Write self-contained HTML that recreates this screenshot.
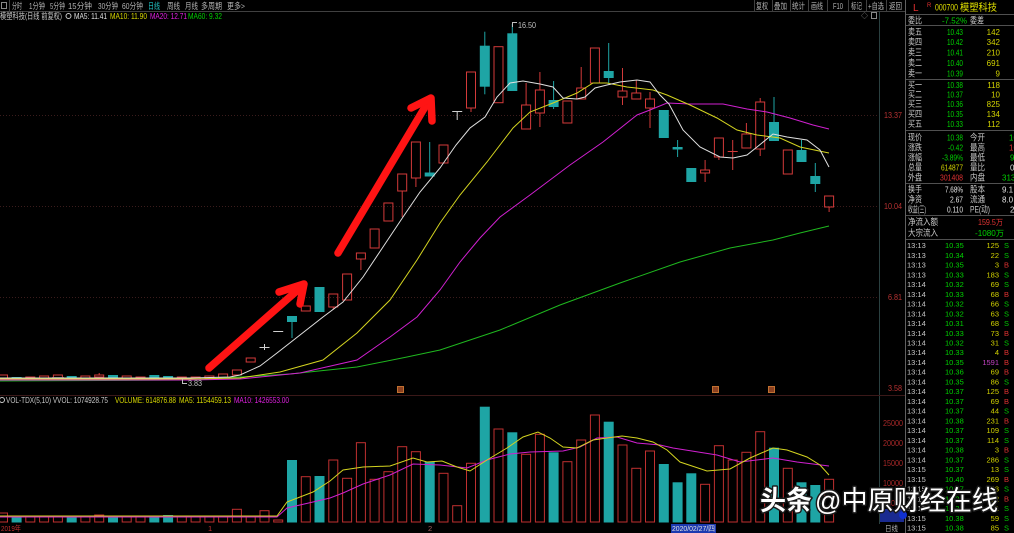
<!DOCTYPE html>
<html><head><meta charset="utf-8">
<style>
html,body{margin:0;padding:0;background:#000;overflow:hidden;width:1014px;height:533px}
svg{display:block}
text{font-family:"Liberation Sans","Noto Sans CJK SC",sans-serif}
</style></head>
<body>
<svg width="1014" height="533" viewBox="0 0 1014 533" xmlns="http://www.w3.org/2000/svg">
<rect width="1014" height="533" fill="#000"/>

<!-- toolbar -->
<g stroke="#404040" stroke-width="1">
<line x1="0" y1="11.5" x2="905" y2="11.5"/>
<line x1="9.5" y1="0" x2="9.5" y2="11"/>
<line x1="754.5" y1="0" x2="754.5" y2="11"/><line x1="772.5" y1="0" x2="772.5" y2="11"/>
<line x1="790.5" y1="0" x2="790.5" y2="11"/><line x1="808.5" y1="0" x2="808.5" y2="11"/>
<line x1="827.5" y1="0" x2="827.5" y2="11"/><line x1="848.5" y1="0" x2="848.5" y2="11"/>
<line x1="866.5" y1="0" x2="866.5" y2="11"/><line x1="886.5" y1="0" x2="886.5" y2="11"/>
</g>
<rect x="1.5" y="2.5" width="5" height="6" fill="none" stroke="#888"/>
<g font-size="8.5" fill="#b4b4b4">
<text x="12" y="9" textLength="10" lengthAdjust="spacingAndGlyphs">分时</text>
<text x="29" y="9" textLength="16" lengthAdjust="spacingAndGlyphs">1分钟</text>
<text x="50" y="9" textLength="15" lengthAdjust="spacingAndGlyphs">5分钟</text>
<text x="68" y="9" textLength="24" lengthAdjust="spacingAndGlyphs">15分钟</text>
<text x="98" y="9" textLength="20" lengthAdjust="spacingAndGlyphs">30分钟</text>
<text x="122" y="9" textLength="21" lengthAdjust="spacingAndGlyphs">60分钟</text>
<text x="148" y="9" textLength="12" lengthAdjust="spacingAndGlyphs" fill="#20c8c8">日线</text>
<text x="167" y="9" textLength="13" lengthAdjust="spacingAndGlyphs">周线</text>
<text x="185" y="9" textLength="13" lengthAdjust="spacingAndGlyphs">月线</text>
<text x="201" y="9" textLength="21" lengthAdjust="spacingAndGlyphs">多周期</text>
<text x="227" y="9" textLength="18" lengthAdjust="spacingAndGlyphs">更多&gt;</text>
<text x="756" y="9" textLength="12" lengthAdjust="spacingAndGlyphs">复权</text>
<text x="774" y="9" textLength="13" lengthAdjust="spacingAndGlyphs">叠加</text>
<text x="792" y="9" textLength="13" lengthAdjust="spacingAndGlyphs">统计</text>
<text x="811" y="9" textLength="12" lengthAdjust="spacingAndGlyphs">画线</text>
<text x="833" y="9" textLength="10" lengthAdjust="spacingAndGlyphs">F10</text>
<text x="851" y="9" textLength="11" lengthAdjust="spacingAndGlyphs">标记</text>
<text x="868" y="9" textLength="16" lengthAdjust="spacingAndGlyphs">+自选</text>
<text x="889" y="9" textLength="13" lengthAdjust="spacingAndGlyphs">返回</text>
</g>

<!-- main legend -->
<g font-size="8.5">
<text x="0" y="19" fill="#c8c8c8" textLength="62" lengthAdjust="spacingAndGlyphs">模塑科技(日线 前复权)</text>
<circle cx="68.5" cy="16" r="2.5" fill="none" stroke="#c8c8c8"/>
<text x="74" y="19" fill="#e0e0e0" textLength="33" lengthAdjust="spacingAndGlyphs">MA5: 11.41</text>
<text x="110" y="19" fill="#d8d800" textLength="37" lengthAdjust="spacingAndGlyphs">MA10: 11.90</text>
<text x="150" y="19" fill="#e020e0" textLength="37" lengthAdjust="spacingAndGlyphs">MA20: 12.71</text>
<text x="188" y="19" fill="#00d000" textLength="34" lengthAdjust="spacingAndGlyphs">MA60: 9.32</text>
</g>
<text x="861" y="18" font-size="7" fill="#888">◇</text>
<rect x="871.5" y="12.5" width="5" height="6" fill="none" stroke="#888"/>

<!-- grid -->
<g stroke="#3a1c1c" stroke-dasharray="1,2">
<line x1="0" y1="115.5" x2="879" y2="115.5"/>
<line x1="0" y1="206.5" x2="879" y2="206.5"/>
<line x1="0" y1="297.5" x2="879" y2="297.5"/>
</g>
<line x1="879.5" y1="12" x2="879.5" y2="524" stroke="#2a4040"/>
<line x1="0" y1="395.5" x2="905" y2="395.5" stroke="#3a1818"/>

<!-- axis labels main -->
<g font-size="8" fill="#b83232">
<text x="884" y="118" textLength="18" lengthAdjust="spacingAndGlyphs">13.37</text>
<text x="884" y="209" textLength="18" lengthAdjust="spacingAndGlyphs">10.04</text>
<text x="888" y="300" textLength="14" lengthAdjust="spacingAndGlyphs">6.81</text>
<text x="888" y="391" textLength="14" lengthAdjust="spacingAndGlyphs">3.58</text>
</g>

<!-- flat candles -->
<g fill="none" stroke="#d33a3a">
<rect x="-1.5" y="375" width="9" height="4"/>
<rect x="25.8" y="377" width="9" height="2"/>
<rect x="39.6" y="376" width="9" height="2"/>
<rect x="53.4" y="375" width="9" height="5"/>
<rect x="80.9" y="376" width="9" height="2"/>
<rect x="94.7" y="375" width="9" height="2"/>
<line x1="99.2" y1="373" x2="99.2" y2="375"/>
<rect x="122.2" y="376" width="9" height="2"/>
<rect x="136" y="377" width="9" height="2"/>
<rect x="177.3" y="377" width="9" height="2"/>
<rect x="191.1" y="377" width="9" height="2"/>
<rect x="204.9" y="376" width="9" height="2"/>
<rect x="218.6" y="374" width="9" height="4"/>
</g>
<g fill="#1ea5a5">
<rect x="11.6" y="377" width="10" height="2"/>
<rect x="66.7" y="376" width="10" height="2.5"/>
<rect x="108" y="375" width="10" height="3"/>
<rect x="149.3" y="375" width="10" height="2.5"/>
<rect x="163.1" y="376" width="10" height="2.5"/>
</g>
<rect x="52" y="377" width="12" height="3" fill="#707070" opacity="0.7"/>

<!-- main candles red hollow -->
<g fill="none" stroke="#d33a3a">
<rect x="232.4" y="370" width="9" height="5"/>
<rect x="246.2" y="358" width="9" height="4"/>
<rect x="301.3" y="306" width="9" height="5"/>
<rect x="328.8" y="294" width="9" height="13"/><line x1="333.3" y1="307" x2="333.3" y2="309"/>
<rect x="342.6" y="274" width="9" height="26"/>
<rect x="356.4" y="253" width="9" height="6"/><line x1="360.9" y1="259" x2="360.9" y2="270"/>
<rect x="370.1" y="229" width="9" height="19"/>
<rect x="383.9" y="203" width="9" height="18"/>
<rect x="397.7" y="174" width="9" height="17"/><line x1="402.2" y1="191" x2="402.2" y2="217"/>
<rect x="411.4" y="142" width="9" height="36"/><line x1="415.9" y1="178" x2="415.9" y2="187"/>
<rect x="439" y="145" width="9" height="18"/>
<rect x="466.5" y="72" width="9" height="36"/><line x1="471" y1="108" x2="471" y2="112"/>
<rect x="494" y="46.7" width="9" height="56"/>
<rect x="521.6" y="105" width="9" height="24"/><line x1="526.1" y1="83" x2="526.1" y2="105"/>
<rect x="535.4" y="90" width="9" height="23"/><line x1="539.9" y1="72" x2="539.9" y2="90"/><line x1="539.9" y1="113" x2="539.9" y2="127"/>
<rect x="562.9" y="101" width="9" height="22"/>
<rect x="576.7" y="88" width="9" height="11"/><line x1="581.2" y1="67" x2="581.2" y2="88"/>
<rect x="590.4" y="48" width="9" height="35"/>
<rect x="618" y="91" width="9" height="6"/><line x1="622.5" y1="68" x2="622.5" y2="91"/><line x1="622.5" y1="97" x2="622.5" y2="105"/>
<rect x="631.8" y="93" width="9" height="6"/><line x1="636.3" y1="80" x2="636.3" y2="93"/>
<rect x="645.5" y="99" width="9" height="9"/><line x1="650" y1="92" x2="650" y2="99"/><line x1="650" y1="108" x2="650" y2="128"/>
<rect x="700.6" y="170" width="9" height="3"/><line x1="705.1" y1="160" x2="705.1" y2="170"/><line x1="705.1" y1="173" x2="705.1" y2="182"/>
<rect x="714.4" y="138" width="9" height="19"/><line x1="718.9" y1="157" x2="718.9" y2="160"/>
<line x1="727.7" y1="151.5" x2="737.7" y2="151.5"/><line x1="732.7" y1="140" x2="732.7" y2="170"/>
<rect x="741.9" y="134" width="9" height="14"/><line x1="746.4" y1="123" x2="746.4" y2="134"/>
<rect x="755.7" y="102" width="9" height="47"/><line x1="760.2" y1="98" x2="760.2" y2="102"/><line x1="760.2" y1="149" x2="760.2" y2="156"/>
<rect x="783.3" y="150" width="9" height="24"/>
<rect x="824.6" y="196" width="9" height="11"/><line x1="829.1" y1="207" x2="829.1" y2="212"/>
</g>
<!-- cyan candles -->
<g fill="#1ea5a5" stroke="none">
<rect x="287" y="316" width="10" height="6"/>
<rect x="314.5" y="287" width="10" height="25"/>
<rect x="424.7" y="172.5" width="10" height="4"/>
<rect x="479.8" y="45.7" width="10" height="41"/>
<rect x="507.3" y="33.3" width="10" height="57.7"/>
<rect x="548.6" y="100" width="10" height="7"/>
<rect x="603.7" y="71" width="10" height="7"/>
<rect x="658.8" y="110" width="10" height="28"/>
<rect x="672.6" y="147" width="10" height="2.5"/>
<rect x="686.3" y="168" width="10" height="14"/>
<rect x="769" y="122" width="10" height="19"/>
<rect x="796.5" y="150" width="10" height="12"/>
<rect x="810.3" y="176" width="10" height="8"/>
</g>
<g stroke="#1ea5a5">
<line x1="292" y1="322" x2="292" y2="338"/>
<line x1="429.7" y1="142" x2="429.7" y2="173"/>
<line x1="484.8" y1="31.7" x2="484.8" y2="94.3"/>
<line x1="512.3" y1="24" x2="512.3" y2="34"/>
<line x1="553.6" y1="81" x2="553.6" y2="109"/>
<line x1="608.7" y1="43" x2="608.7" y2="84"/>
<line x1="677.6" y1="140" x2="677.6" y2="157"/>
<line x1="774" y1="97" x2="774" y2="122"/>
<line x1="801.5" y1="140" x2="801.5" y2="150"/>
<line x1="815.3" y1="163" x2="815.3" y2="192"/>
</g>
<!-- white (limit) candles -->
<g stroke="#d0d0d0">
<line x1="259.5" y1="347.5" x2="269.5" y2="347.5"/><line x1="264.5" y1="344" x2="264.5" y2="350"/>
<line x1="273.2" y1="331.5" x2="283.2" y2="331.5"/>
<line x1="452.2" y1="111.5" x2="462.2" y2="111.5"/><line x1="457.2" y1="111" x2="457.2" y2="120"/>
</g>

<!-- MA lines main -->
<g fill="none" stroke-width="1">
<polyline stroke="#1fb81f" points="0,381 190,380 290,374 357,367 407,357 440,350 500,330 560,305 620,283 680,262 730,248 773,240 800,233 829,226"/>
<polyline stroke="#d020d0" points="0,380 190,380 240,379 300,373 357,360 390,337 417,317 440,290 460,262 480,238 500,217 530,195 570,165 603,142 637,115 650,110 667,103 690,104 723,104 747,109 767,112 790,118 813,125 829,129"/>
<polyline stroke="#d4d420" points="0,379 190,379 240,378 280,372 323,360 357,333 390,300 417,260 440,223 460,195 487,162 513,128 530,112 553,103 577,93 593,83 607,83 627,87 653,90 667,95 690,105 717,118 737,130 757,135 780,138 800,147 829,153"/>
<polyline stroke="#e0e0e0" points="0,378 190,378 230,377 240,375 260,366 277,353 300,335 323,317 343,302 363,277 383,247 403,217 420,192 440,168 456,145 470,128 485,117 497,97 510,83 523,81 540,84 553,87 563,98 577,99 585,97 595,88 607,85 620,82 637,80 650,82 660,95 669,104 683,130 700,147 720,157 733,158 747,155 757,147 773,134 787,137 807,140 820,150 829,167"/>
</g>

<!-- price labels -->
<line x1="512.5" y1="22" x2="512.5" y2="27" stroke="#c0c0c0"/>
<line x1="512.5" y1="22.5" x2="517" y2="22.5" stroke="#c0c0c0"/>
<text x="518" y="28" font-size="8" fill="#c0c0c0" textLength="18" lengthAdjust="spacingAndGlyphs">16.50</text>
<line x1="182.5" y1="379" x2="182.5" y2="384" stroke="#c0c0c0"/>
<line x1="182.5" y1="383.5" x2="187" y2="383.5" stroke="#c0c0c0"/>
<text x="188" y="386" font-size="8" fill="#c0c0c0" textLength="14" lengthAdjust="spacingAndGlyphs">3.83</text>

<!-- markers -->
<rect x="397.5" y="386.5" width="6" height="6" fill="#8a4020" stroke="#c07030"/>
<rect x="712.5" y="386.5" width="6" height="6" fill="#8a4020" stroke="#c07030"/>
<rect x="768.5" y="386.5" width="6" height="6" fill="#8a4020" stroke="#c07030"/>

<!-- red arrows -->
<g stroke="#ff1414" stroke-width="7.5" stroke-linecap="round" stroke-linejoin="round" fill="none">
<line x1="209" y1="368" x2="300" y2="288"/>
<polyline points="279,292 304,284 300,304"/>
<line x1="338" y1="253" x2="428" y2="102"/>
<polyline points="411,108 431,98 432,121"/>
</g>

<!-- volume legend -->
<g font-size="8.5">
<circle cx="2" cy="400" r="2.5" fill="none" stroke="#c8c8c8"/>
<text x="6" y="403" fill="#c8c8c8" textLength="102" lengthAdjust="spacingAndGlyphs">VOL-TDX(5,10) VVOL: 1074928.75</text>
<text x="115" y="403" fill="#d8d800" textLength="61" lengthAdjust="spacingAndGlyphs">VOLUME: 614876.88</text>
<text x="179" y="403" fill="#d8d800" textLength="52" lengthAdjust="spacingAndGlyphs">MA5: 1154459.13</text>
<text x="234" y="403" fill="#e020e0" textLength="55" lengthAdjust="spacingAndGlyphs">MA10: 1426553.00</text>
</g>

<!-- volume axis -->
<g font-size="8" fill="#a82828">
<text x="883" y="426" textLength="20" lengthAdjust="spacingAndGlyphs">25000</text>
<text x="883" y="446" textLength="20" lengthAdjust="spacingAndGlyphs">20000</text>
<text x="883" y="466" textLength="20" lengthAdjust="spacingAndGlyphs">15000</text>
<text x="883" y="486" textLength="20" lengthAdjust="spacingAndGlyphs">10000</text>
<text x="887" y="506" textLength="16" lengthAdjust="spacingAndGlyphs">5000</text>
</g>
<rect x="880" y="509" width="24" height="13" fill="#1a2a90"/>

<!-- volume bars red -->
<g fill="none" stroke="#c03030">
<rect x="-1.5" y="513" width="9" height="9"/>
<rect x="25.8" y="516.7" width="9" height="5.3"/>
<rect x="39.6" y="516.7" width="9" height="5.3"/>
<rect x="53.4" y="516.7" width="9" height="5.3"/>
<rect x="80.9" y="517" width="9" height="5"/>
<rect x="94.7" y="515" width="9" height="7"/>
<rect x="122.2" y="516.7" width="9" height="5.3"/>
<rect x="136" y="516.7" width="9" height="5.3"/>
<rect x="177.3" y="516.7" width="9" height="5.3"/>
<rect x="191.1" y="517" width="9" height="5"/>
<rect x="204.9" y="516.7" width="9" height="5.3"/>
<rect x="218.6" y="516.7" width="9" height="5.3"/>
<rect x="232.4" y="509.3" width="9" height="12.7"/>
<rect x="246.2" y="516.7" width="9" height="5.3"/>
<rect x="260" y="510.7" width="9" height="11.3"/>
<rect x="273.7" y="520" width="9" height="2"/>
<rect x="301.3" y="476.7" width="9" height="45.3"/>
<rect x="328.8" y="460" width="9" height="62"/>
<rect x="342.6" y="478.3" width="9" height="43.7"/>
<rect x="356.4" y="442.7" width="9" height="79.3"/>
<rect x="370.1" y="479.3" width="9" height="42.7"/>
<rect x="383.9" y="471.7" width="9" height="50.3"/>
<rect x="397.7" y="446.7" width="9" height="75.3"/>
<rect x="411.4" y="451.7" width="9" height="70.3"/>
<rect x="439" y="473.3" width="9" height="48.7"/>
<rect x="452.7" y="505.7" width="9" height="16.3"/>
<rect x="466.5" y="463.3" width="9" height="58.7"/>
<rect x="494" y="429" width="9" height="93"/>
<rect x="521.6" y="454.3" width="9" height="67.7"/>
<rect x="535.4" y="434.3" width="9" height="87.7"/>
<rect x="562.9" y="461.7" width="9" height="60.3"/>
<rect x="576.7" y="440" width="9" height="82"/>
<rect x="590.4" y="415" width="9" height="107"/>
<rect x="618" y="445" width="9" height="77"/>
<rect x="631.8" y="468.3" width="9" height="53.7"/>
<rect x="645.5" y="451" width="9" height="71"/>
<rect x="700.6" y="484.3" width="9" height="37.7"/>
<rect x="714.4" y="445.7" width="9" height="76.3"/>
<rect x="728.2" y="460" width="9" height="62"/>
<rect x="741.9" y="452.3" width="9" height="69.7"/>
<rect x="755.7" y="431.7" width="9" height="90.3"/>
<rect x="783.3" y="468.3" width="9" height="53.7"/>
<rect x="824.6" y="479.3" width="9" height="42.7"/>
</g>
<g fill="#1ea5a5">
<rect x="11.6" y="516" width="10" height="6.5"/>
<rect x="66.7" y="516.7" width="10" height="5.8"/>
<rect x="108" y="516" width="10" height="6.5"/>
<rect x="149.3" y="516.7" width="10" height="5.8"/>
<rect x="163.1" y="515" width="10" height="7.5"/>
<rect x="287" y="460" width="10" height="62.5"/>
<rect x="314.5" y="476" width="10" height="46.5"/>
<rect x="424.7" y="461.7" width="10" height="60.8"/>
<rect x="479.8" y="406.7" width="10" height="115.8"/>
<rect x="507.3" y="432.3" width="10" height="90.2"/>
<rect x="548.6" y="452.3" width="10" height="70.2"/>
<rect x="603.7" y="421.7" width="10" height="100.8"/>
<rect x="658.8" y="464" width="10" height="58.5"/>
<rect x="672.6" y="482.3" width="10" height="40.2"/>
<rect x="686.3" y="473.3" width="10" height="49.2"/>
<rect x="769" y="447.7" width="10" height="74.8"/>
<rect x="796.5" y="482.3" width="10" height="40.2"/>
<rect x="810.3" y="485" width="10" height="37.5"/>
</g>
<!-- volume MAs -->
<g fill="none">
<polyline stroke="#d020d0" points="0,517 277,517 287,508 313,502 330,498 343,493 363,484 390,475 413,464 440,465 467,468 487,460 510,454 530,452 563,451 580,447 597,438 617,437 637,443 660,445 673,448 717,455 740,462 773,458 797,462 829,466"/>
<polyline stroke="#d4d420" points="0,516 277,516 287,502 313,492 330,481 343,470 363,467 390,466 413,458 427,462 442,461 457,467 470,471 487,460 507,448 523,437 538,432 550,438 563,447 577,448 593,440 607,438 622,436 637,438 653,442 667,450 680,462 707,471 730,469 750,458 773,448 787,450 807,457 820,465 829,475"/>
</g>

<!-- date axis -->
<g font-size="7.5">
<text x="1" y="531" fill="#c03030" textLength="20" lengthAdjust="spacingAndGlyphs">2019年</text>
<text x="208" y="531" fill="#c03030">1</text>
<text x="428" y="531" fill="#a06060">2</text>
<rect x="671" y="524" width="45" height="9" fill="#1c3ab0"/>
<text x="672" y="531" fill="#e0e0e0" textLength="43" lengthAdjust="spacingAndGlyphs">2020/02/27/四</text>
<text x="885" y="531" fill="#b4b4b4" textLength="13" lengthAdjust="spacingAndGlyphs">日线</text>
</g>

<!-- right panel -->
<line x1="905.5" y1="0" x2="905.5" y2="533" stroke="#606060"/>
<g stroke="#505050">
<line x1="906" y1="14.5" x2="1014" y2="14.5"/>
<line x1="906" y1="25.5" x2="1014" y2="25.5"/>
<line x1="906" y1="79.5" x2="1014" y2="79.5"/>
<line x1="906" y1="130.5" x2="1014" y2="130.5"/>
<line x1="906" y1="183.5" x2="1014" y2="183.5"/>
<line x1="906" y1="215.5" x2="1014" y2="215.5"/>
<line x1="906" y1="239.5" x2="1014" y2="239.5"/>
</g>
<text x="913" y="11" font-size="10" fill="#e03030">L</text>
<text x="927" y="7" font-size="6" fill="#e03030">R</text>
<text x="935" y="10.5" font-size="9" fill="#e0e000" textLength="23" lengthAdjust="spacingAndGlyphs">000700</text>
<text x="960" y="11" font-size="10" fill="#e0e000" textLength="37" lengthAdjust="spacingAndGlyphs">模塑科技</text>

<g font-size="9" fill="#c8c8c8">
<text x="908" y="23.5" textLength="14" lengthAdjust="spacingAndGlyphs">委比</text>
<text x="970" y="23.5" textLength="14" lengthAdjust="spacingAndGlyphs">委差</text>
<text x="908" y="35" textLength="14" lengthAdjust="spacingAndGlyphs">卖五</text>
<text x="908" y="45" textLength="14" lengthAdjust="spacingAndGlyphs">卖四</text>
<text x="908" y="55.5" textLength="14" lengthAdjust="spacingAndGlyphs">卖三</text>
<text x="908" y="66" textLength="14" lengthAdjust="spacingAndGlyphs">卖二</text>
<text x="908" y="76.5" textLength="14" lengthAdjust="spacingAndGlyphs">卖一</text>
<text x="908" y="88" textLength="14" lengthAdjust="spacingAndGlyphs">买一</text>
<text x="908" y="97.5" textLength="14" lengthAdjust="spacingAndGlyphs">买二</text>
<text x="908" y="107" textLength="14" lengthAdjust="spacingAndGlyphs">买三</text>
<text x="908" y="117" textLength="14" lengthAdjust="spacingAndGlyphs">买四</text>
<text x="908" y="127" textLength="14" lengthAdjust="spacingAndGlyphs">买五</text>
<text x="908" y="140.5" textLength="14" lengthAdjust="spacingAndGlyphs">现价</text>
<text x="908" y="150.5" textLength="14" lengthAdjust="spacingAndGlyphs">涨跌</text>
<text x="908" y="160.5" textLength="14" lengthAdjust="spacingAndGlyphs">涨幅</text>
<text x="908" y="170.5" textLength="14" lengthAdjust="spacingAndGlyphs">总量</text>
<text x="908" y="180.5" textLength="14" lengthAdjust="spacingAndGlyphs">外盘</text>
<text x="970" y="140.5" textLength="15" lengthAdjust="spacingAndGlyphs">今开</text>
<text x="970" y="150.5" textLength="15" lengthAdjust="spacingAndGlyphs">最高</text>
<text x="970" y="160.5" textLength="15" lengthAdjust="spacingAndGlyphs">最低</text>
<text x="970" y="170.5" textLength="15" lengthAdjust="spacingAndGlyphs">量比</text>
<text x="970" y="180.5" textLength="15" lengthAdjust="spacingAndGlyphs">内盘</text>
<text x="908" y="192.5" textLength="14" lengthAdjust="spacingAndGlyphs">换手</text>
<text x="908" y="202.5" textLength="14" lengthAdjust="spacingAndGlyphs">净资</text>
<text x="908" y="212.5" textLength="18" lengthAdjust="spacingAndGlyphs">收益(三)</text>
<text x="970" y="192.5" textLength="15" lengthAdjust="spacingAndGlyphs">股本</text>
<text x="970" y="202.5" textLength="15" lengthAdjust="spacingAndGlyphs">流通</text>
<text x="970" y="212.5" textLength="20" lengthAdjust="spacingAndGlyphs">PE(动)</text>
<text x="908" y="225" textLength="30" lengthAdjust="spacingAndGlyphs">净流入额</text>
<text x="908" y="236" textLength="30" lengthAdjust="spacingAndGlyphs">大宗流入</text>
</g>
<g font-size="8" fill="#00d200" text-anchor="end">
<text x="967" y="23.5" textLength="25" lengthAdjust="spacingAndGlyphs">-7.52%</text>
<text x="963" y="35" textLength="16" lengthAdjust="spacingAndGlyphs">10.43</text>
<text x="963" y="45" textLength="16" lengthAdjust="spacingAndGlyphs">10.42</text>
<text x="963" y="55.5" textLength="16" lengthAdjust="spacingAndGlyphs">10.41</text>
<text x="963" y="66" textLength="16" lengthAdjust="spacingAndGlyphs">10.40</text>
<text x="963" y="76.5" textLength="16" lengthAdjust="spacingAndGlyphs">10.39</text>
<text x="963" y="88" textLength="16" lengthAdjust="spacingAndGlyphs">10.38</text>
<text x="963" y="97.5" textLength="16" lengthAdjust="spacingAndGlyphs">10.37</text>
<text x="963" y="107" textLength="16" lengthAdjust="spacingAndGlyphs">10.36</text>
<text x="963" y="117" textLength="16" lengthAdjust="spacingAndGlyphs">10.35</text>
<text x="963" y="127" textLength="16" lengthAdjust="spacingAndGlyphs">10.33</text>
<text x="963" y="140.5" textLength="16" lengthAdjust="spacingAndGlyphs">10.38</text>
<text x="963" y="150.5" textLength="15" lengthAdjust="spacingAndGlyphs">-0.42</text>
<text x="963" y="160.5" textLength="21" lengthAdjust="spacingAndGlyphs">-3.89%</text>
<text x="1004" y="236" textLength="29" lengthAdjust="spacingAndGlyphs">-1080万</text>
</g>
<g font-size="8" fill="#d2d200" text-anchor="end">
<text x="1000" y="35">142</text>
<text x="1000" y="45">342</text>
<text x="1000" y="55.5">210</text>
<text x="1000" y="66">691</text>
<text x="1000" y="76.5">9</text>
<text x="1000" y="88">118</text>
<text x="1000" y="97.5">10</text>
<text x="1000" y="107">825</text>
<text x="1000" y="117">134</text>
<text x="1000" y="127">112</text>
<text x="963" y="170.5" textLength="22" lengthAdjust="spacingAndGlyphs">614877</text>
</g>
<g font-size="8" fill="#e0e0e0" text-anchor="end">
<text x="963" y="192.5" textLength="18" lengthAdjust="spacingAndGlyphs">7.68%</text>
<text x="963" y="202.5" textLength="13" lengthAdjust="spacingAndGlyphs">2.67</text>
<text x="963" y="212.5" textLength="16" lengthAdjust="spacingAndGlyphs">0.110</text>
</g>
<g font-size="8">
<text x="963" y="180.5" fill="#e03232" text-anchor="end" textLength="23" lengthAdjust="spacingAndGlyphs">301408</text>
<text x="1003" y="225" fill="#e03232" text-anchor="end" textLength="25" lengthAdjust="spacingAndGlyphs">159.5万</text>
<text x="1009" y="140.5" fill="#00d200">10.6</text>
<text x="1009" y="150.5" fill="#e03232">10.8</text>
<text x="1010" y="160.5" fill="#00d200">9.9</text>
<text x="1010" y="170.5" fill="#e0e0e0">0.5</text>
<text x="1002" y="180.5" fill="#00d200">313</text>
<text x="1002" y="192.5" fill="#e0e0e0">9.1</text>
<text x="1002" y="202.5" fill="#e0e0e0">8.0</text>
<text x="1010" y="212.5" fill="#e0e0e0">2</text>
</g>

<!-- tick list -->
<g font-size="7.5">
<g fill="#c8c8c8">
<text x="907" y="248">13:13</text><text x="907" y="258">13:13</text><text x="907" y="267.5">13:13</text><text x="907" y="277.5">13:13</text>
<text x="907" y="287">13:14</text><text x="907" y="297">13:14</text><text x="907" y="306.5">13:14</text><text x="907" y="316.5">13:14</text>
<text x="907" y="326">13:14</text><text x="907" y="336">13:14</text><text x="907" y="345.5">13:14</text><text x="907" y="355">13:14</text>
<text x="907" y="365">13:14</text><text x="907" y="374.5">13:14</text><text x="907" y="384.5">13:14</text><text x="907" y="394">13:14</text>
<text x="907" y="404">13:14</text><text x="907" y="413.5">13:14</text><text x="907" y="423.5">13:14</text><text x="907" y="433">13:14</text>
<text x="907" y="443">13:14</text><text x="907" y="452.5">13:14</text><text x="907" y="462.5">13:14</text><text x="907" y="472">13:15</text>
<text x="907" y="482">13:15</text><text x="907" y="491.5">13:15</text><text x="907" y="501.5">13:15</text><text x="907" y="511">13:15</text>
<text x="907" y="521">13:15</text><text x="907" y="530.5">13:15</text>
</g>
<g fill="#00d200">
<text x="945" y="248">10.35</text><text x="945" y="258">10.34</text><text x="945" y="267.5">10.35</text><text x="945" y="277.5">10.33</text>
<text x="945" y="287">10.32</text><text x="945" y="297">10.33</text><text x="945" y="306.5">10.32</text><text x="945" y="316.5">10.32</text>
<text x="945" y="326">10.31</text><text x="945" y="336">10.33</text><text x="945" y="345.5">10.32</text><text x="945" y="355">10.33</text>
<text x="945" y="365">10.35</text><text x="945" y="374.5">10.36</text><text x="945" y="384.5">10.35</text><text x="945" y="394">10.37</text>
<text x="945" y="404">10.37</text><text x="945" y="413.5">10.37</text><text x="945" y="423.5">10.38</text><text x="945" y="433">10.37</text>
<text x="945" y="443">10.37</text><text x="945" y="452.5">10.38</text><text x="945" y="462.5">10.37</text><text x="945" y="472">10.37</text>
<text x="945" y="482">10.40</text><text x="945" y="491.5">10.37</text><text x="945" y="501.5">10.37</text><text x="945" y="511">10.38</text>
<text x="945" y="521">10.38</text><text x="945" y="530.5">10.38</text>
</g>
<g fill="#d2d200" text-anchor="end">
<text x="999" y="248">125</text><text x="999" y="258">22</text><text x="999" y="267.5">3</text><text x="999" y="277.5">183</text>
<text x="999" y="287">69</text><text x="999" y="297">68</text><text x="999" y="306.5">66</text><text x="999" y="316.5">63</text>
<text x="999" y="326">68</text><text x="999" y="336">73</text><text x="999" y="345.5">31</text><text x="999" y="355">4</text>
<text x="999" y="365" fill="#c040c0">1591</text><text x="999" y="374.5">69</text><text x="999" y="384.5">86</text><text x="999" y="394">125</text>
<text x="999" y="404">69</text><text x="999" y="413.5">44</text><text x="999" y="423.5">231</text><text x="999" y="433">109</text>
<text x="999" y="443">114</text><text x="999" y="452.5">3</text><text x="999" y="462.5">286</text><text x="999" y="472">13</text>
<text x="999" y="482">269</text><text x="999" y="491.5">63</text><text x="999" y="501.5">62</text><text x="999" y="511">1</text>
<text x="999" y="521">59</text><text x="999" y="530.5">85</text>
</g>
<g fill="#00c800">
<text x="1004" y="248">S</text><text x="1004" y="258">S</text><text x="1004" y="277.5">S</text><text x="1004" y="287">S</text>
<text x="1004" y="306.5">S</text><text x="1004" y="316.5">S</text><text x="1004" y="326">S</text><text x="1004" y="345.5">S</text>
<text x="1004" y="384.5">S</text><text x="1004" y="413.5">S</text><text x="1004" y="433">S</text><text x="1004" y="443">S</text>
<text x="1004" y="462.5">S</text><text x="1004" y="472">S</text><text x="1004" y="491.5">S</text><text x="1004" y="511">S</text>
<text x="1004" y="521">S</text><text x="1004" y="530.5">S</text>
</g>
<g fill="#e03232">
<text x="1004" y="267.5">B</text><text x="1004" y="297">B</text><text x="1004" y="336">B</text><text x="1004" y="355">B</text>
<text x="1004" y="365">B</text><text x="1004" y="374.5">B</text><text x="1004" y="394">B</text><text x="1004" y="404">B</text>
<text x="1004" y="423.5">B</text><text x="1004" y="452.5">B</text><text x="1004" y="482">B</text><text x="1004" y="501.5">B</text>
</g>
</g>

<circle cx="903" cy="515" r="4" fill="#1030d0"/>

<!-- watermark -->
<g style="font-family:'Noto Sans CJK SC','WenQuanYi Zen Hei',sans-serif" font-size="27" stroke-linejoin="round">
<text x="760" y="510" font-weight="bold" fill="#fff" stroke="#1a1a1a" stroke-width="3" paint-order="stroke" textLength="52" lengthAdjust="spacingAndGlyphs">头条</text>
<text x="815" y="510" fill="#fff" stroke="#1a1a1a" stroke-width="3" paint-order="stroke" textLength="183" lengthAdjust="spacingAndGlyphs">@中原财经在线</text>
</g>
</svg>
</body></html>
